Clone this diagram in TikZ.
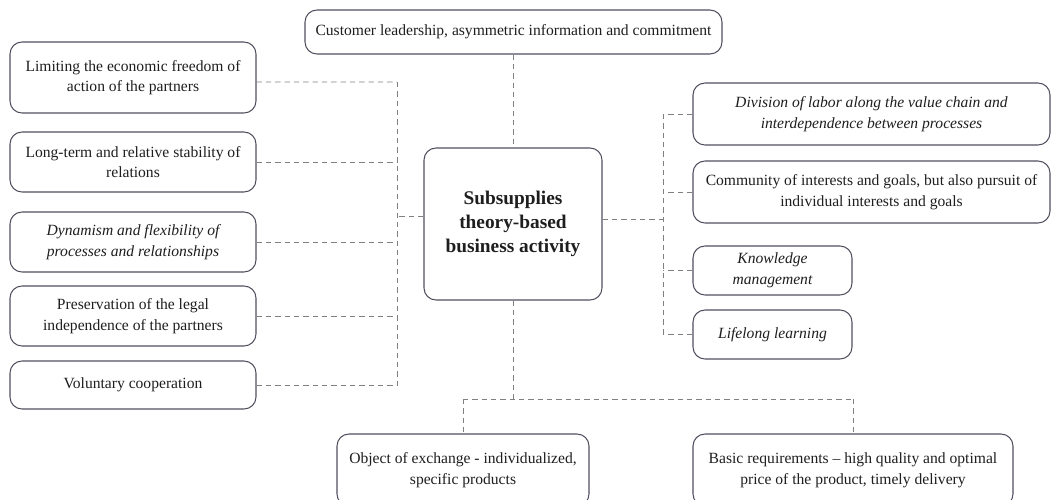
\documentclass[tikz,border=0pt]{standalone}
\usepackage{fontspec}
\setmainfont{Liberation Serif}
\definecolor{boxc}{HTML}{50505F}
\definecolor{linkc}{HTML}{808080}
\definecolor{txt}{HTML}{1E1E1E}
\begin{document}
\begin{tikzpicture}[x=0.75pt,y=-0.75pt,
  box/.style={draw=boxc, line width=0.8pt, rounded corners=9pt, align=center,
    inner sep=0pt, text=txt, font=\fontsize{11.7}{15.5}\selectfont},
  itbox/.style={box, font=\fontsize{11.7}{15.5}\selectfont\itshape},
  link/.style={draw=linkc, dash pattern=on 4pt off 3pt, line width=0.6pt}]
\clip (0,0) rectangle (1051,500);
\useasboundingbox (0,0) rectangle (1051,500);

\node[box, minimum width=312.75pt, minimum height=33pt] (T) at (513.5,32)
  {Customer leadership, asymmetric information and commitment};

\node[box, minimum width=184.5pt, minimum height=53.25pt] (L1) at (133,77.5)
  {Limiting the economic freedom of\\action of the partners};
\node[box, minimum width=184.5pt, minimum height=45pt] (L2) at (133,162)
  {Long-term and relative stability of\\relations};
\node[itbox, minimum width=184.5pt, minimum height=45pt] (L3) at (133,242)
  {Dynamism and flexibility of\\processes and relationships};
\node[box, minimum width=184.5pt, minimum height=45pt] (L4) at (133,316)
  {Preservation of the legal\\independence of the partners};
\node[box, minimum width=184.5pt, minimum height=36pt] (L5) at (133,385)
  {Voluntary cooperation};

\node[box, minimum width=133.5pt, minimum height=114pt,
  font=\fontsize{14.5}{18}\selectfont\bfseries] (C) at (513,224)
  {Subsupplies\\theory-based\\business activity};

\node[itbox, minimum width=267.75pt, minimum height=46.5pt] (R1) at (871.5,114)
  {Division of labor along the value chain and\\interdependence between processes};
\node[box, minimum width=267.75pt, minimum height=46.5pt] (R2) at (871.5,192)
  {Community of interests and goals, but also pursuit of\\individual interests and goals};
\node[itbox, minimum width=119.25pt, minimum height=36.75pt] (R3) at (772.5,270.5)
  {Knowledge\\management};
\node[itbox, minimum width=119.25pt, minimum height=36.75pt] (R4) at (772.5,334.5)
  {Lifelong learning};

\node[box, minimum width=189pt, minimum height=54pt] (B1) at (463,470)
  {Object of exchange - individualized,\\specific products};
\node[box, minimum width=240pt, minimum height=54pt] (B2) at (853,470)
  {Basic requirements -- high quality and optimal\\price of the product, timely delivery};

% top
\draw[link] (T.south) -- (T.south |- C.north);
% left bus
\coordinate (lbt) at (397,82);
\coordinate (lbb) at (397,385);
\draw[link] (lbt) -- (lbb);
\draw[link] ([yshift=-3.4pt]L1.east) -- (lbt);
\draw[link] (L2.east) -- (L2.east -| lbt);
\draw[link] (L3.east) -- (L3.east -| lbt);
\draw[link] (L4.east) -- (L4.east -| lbt);
\draw[link] (L5.east) -- (lbb);
\draw[link] ([yshift=6pt]C.west) -- ([yshift=6pt]C.west -| lbt);
% right bus
\coordinate (rbt) at (663,114);
\coordinate (rbb) at (663,334.5);
\draw[link] (rbt) -- (rbb);
\draw[link] ([yshift=3.75pt]C.east) -- ([yshift=3.75pt]C.east -| rbt);
\draw[link] (R1.west) -- (rbt);
\draw[link] (R2.west) -- (R2.west -| rbt);
\draw[link] (R3.west) -- (R3.west -| rbt);
\draw[link] (R4.west) -- (rbb);
% bottom
\coordinate (bj) at (513,399);
\coordinate (bl) at (463,399);
\coordinate (br) at (853,399);
\draw[link] (C.south) -- (bj);
\draw[link] (bl) -- (br);
\draw[link] (bl) -- (B1.north);
\draw[link] (br) -- (B2.north);
\end{tikzpicture}
\end{document}
